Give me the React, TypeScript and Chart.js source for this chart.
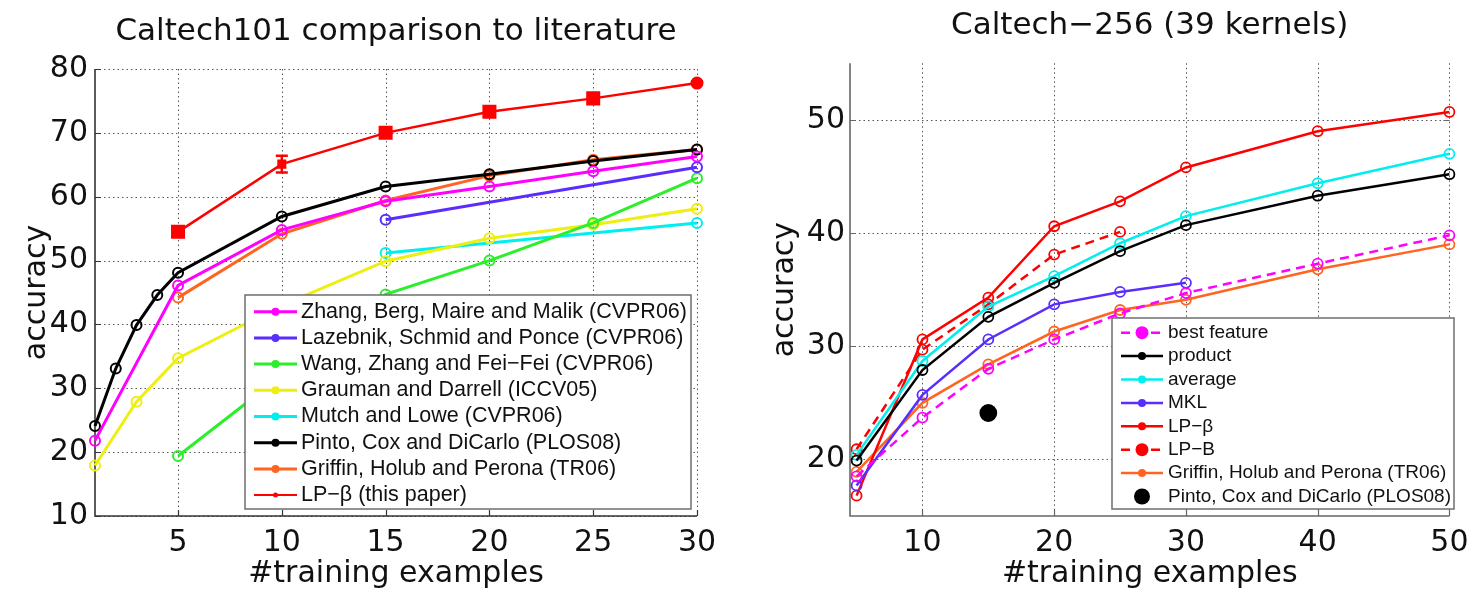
import React, { useEffect, useRef } from "react";
import { Chart, registerables } from "chart.js";

Chart.register(...registerables);

// ---------------- Shared labels ----------------
const X_LABEL = "#training examples";
const Y_LABEL = "accuracy";

// ---------------- Left chart: Caltech101 ----------------
const LEFT_TITLE = "Caltech101 comparison to literature";
const LEFT_X_TICKS = [5, 10, 15, 20, 25, 30];
const LEFT_Y_TICKS = [10, 20, 30, 40, 50, 60, 70, 80];

const L_ZHANG_X = [1, 5, 10, 15, 20, 25, 30];
const L_ZHANG_Y = [21.8, 46.1, 54.8, 59.3, 61.6, 64.0, 66.3];
const L_LAZEBNIK_X = [15, 30];
const L_LAZEBNIK_Y = [56.4, 64.6];
const L_WANG_X = [5, 10, 15, 20, 25, 30];
const L_WANG_Y = [19.4, 32.0, 44.7, 50.0, 55.9, 62.9];
const L_GRAUMAN_X = [1, 3, 5, 10, 15, 20, 25, 30];
const L_GRAUMAN_Y = [17.9, 27.9, 34.7, 43.0, 49.9, 53.5, 55.6, 58.1];
const L_MUTCH_X = [15, 30];
const L_MUTCH_Y = [51.2, 55.9];
const L_PINTO_X = [1, 2, 3, 4, 5, 10, 15, 20, 25, 30];
const L_PINTO_Y = [24.1, 33.1, 39.9, 44.6, 48.1, 56.9, 61.6, 63.5, 65.6, 67.4];
const L_GRIFFIN_X = [5, 10, 15, 20, 25, 30];
const L_GRIFFIN_Y = [44.2, 54.2, 59.4, 63.3, 65.8, 67.4];
const L_LPB_X = [5, 10, 15, 20, 25, 30];
const L_LPB_Y = [54.5, 65.1, 70.0, 73.3, 75.4, 77.8];
const L_LPB_ERR = [0.5, 1.3, 0.5, 0.4, 0.4, 0.3];

// ---------------- Right chart: Caltech-256 ----------------
const RIGHT_TITLE = "Caltech\u2212256 (39 kernels)";
const RIGHT_X_TICKS = [10, 20, 30, 40, 50];
const RIGHT_Y_TICKS = [20, 30, 40, 50];

const R_X = [5, 10, 15, 20, 25, 30, 40, 50];
const R_BEST_Y = [18.5, 23.7, 28.0, 30.6, 32.9, 34.7, 37.3, 39.8];
const R_PRODUCT_Y = [19.9, 27.9, 32.6, 35.6, 38.4, 40.7, 43.3, 45.2];
const R_AVERAGE_Y = [20.4, 28.7, 33.5, 36.2, 39.1, 41.5, 44.4, 47.0];
const R_MKL_X = [5, 10, 15, 20, 25, 30];
const R_MKL_Y = [17.7, 25.7, 30.6, 33.7, 34.8, 35.6];
const R_LPBETA_Y = [16.8, 30.6, 34.3, 40.6, 42.8, 45.8, 49.0, 50.7];
const R_LPB_X = [5, 10, 15, 20, 25];
const R_LPB_Y = [20.9, 29.7, 33.7, 38.1, 40.1];
const R_GRIFFIN_Y = [18.9, 25.0, 28.4, 31.3, 33.2, 34.1, 36.8, 39.0];
const R_PINTO_X = [15];
const R_PINTO_Y = [24.1];

// ---------------- Colors ----------------
const MAGENTA = "#ff00ff";
const BLUE = "#5a2dff";
const GREEN = "#2bef2b";
const YELLOW = "#eeee11";
const CYAN = "#00eeee";
const BLACK = "#000000";
const ORANGE = "#ff6420";
const RED = "#ff0000";

const BIG_FONT = { family: "DejaVu Sans", size: 30, weight: "normal" as const };
const TITLE_FONT = { family: "DejaVu Sans", size: 31, weight: "normal" as const };

const pts = (xs: number[], ys: number[]) => xs.map((x, i) => ({ x, y: ys[i] }));

// ---------------- Plugins ----------------
const gridAxesPlugin = {
  id: "gridAxes",
  beforeDatasetsDraw(chart: any, _a: any, opts: any) {
    const { ctx, chartArea: ca, scales } = chart;
    const xs = scales.x;
    const ys = scales.y;
    ctx.save();
    ctx.lineWidth = 1;
    ctx.strokeStyle = opts.gridColor;
    ctx.setLineDash([1.5, 3]);
    for (const v of opts.xTicks) {
      const px = Math.round(xs.getPixelForValue(v)) + 0.5;
      ctx.beginPath();
      ctx.moveTo(px, ca.top);
      ctx.lineTo(px, ca.bottom);
      ctx.stroke();
    }
    for (const v of opts.yTicks) {
      const py = Math.round(ys.getPixelForValue(v)) + 0.5;
      ctx.beginPath();
      ctx.moveTo(ca.left, py);
      ctx.lineTo(ca.right, py);
      ctx.stroke();
    }
    ctx.setLineDash([]);
    ctx.strokeStyle = opts.axisColor;
    ctx.lineWidth = opts.axisWidth;
    ctx.beginPath();
    ctx.moveTo(ca.left, ca.top);
    ctx.lineTo(ca.left, ca.bottom);
    ctx.lineTo(ca.right, ca.bottom);
    ctx.stroke();
    ctx.lineWidth = 1.2;
    ctx.beginPath();
    for (const v of opts.xTicks) {
      const px = Math.round(xs.getPixelForValue(v)) + 0.5;
      ctx.moveTo(px, ca.bottom);
      ctx.lineTo(px, ca.bottom - 6);
    }
    for (const v of opts.yTicks) {
      const py = Math.round(ys.getPixelForValue(v)) + 0.5;
      ctx.moveTo(ca.left, py);
      ctx.lineTo(ca.left + 6, py);
      if (opts.rightTicks) {
        ctx.moveTo(ca.right, py);
        ctx.lineTo(ca.right - 6, py);
      }
    }
    ctx.stroke();
    ctx.restore();
  },
};

const errorBarPlugin = {
  id: "errorBars",
  afterDatasetsDraw(chart: any) {
    const { ctx, scales } = chart;
    chart.data.datasets.forEach((ds: any) => {
      if (!ds.errorBars) return;
      ctx.save();
      ctx.strokeStyle = ds.borderColor;
      ctx.lineWidth = 2.5;
      ds.data.forEach((p: any, j: number) => {
        const e = ds.errorBars[j];
        const px = scales.x.getPixelForValue(p.x);
        const yt = scales.y.getPixelForValue(p.y + e);
        const yb = scales.y.getPixelForValue(p.y - e);
        ctx.beginPath();
        ctx.moveTo(px, yt);
        ctx.lineTo(px, yb);
        ctx.moveTo(px - 6, yt);
        ctx.lineTo(px + 6, yt);
        ctx.moveTo(px - 6, yb);
        ctx.lineTo(px + 6, yb);
        ctx.stroke();
      });
      ctx.restore();
    });
  },
};

const legendBoxPlugin = {
  id: "legendBox",
  afterDraw(chart: any, _a: any, opts: any) {
    const { ctx } = chart;
    const { box, rowY0, rowStep, lineX0, lineX1, textX, font, items } = opts;
    ctx.save();
    ctx.fillStyle = "#ffffff";
    ctx.fillRect(box.x0, box.y0, box.x1 - box.x0, box.y1 - box.y0);
    ctx.strokeStyle = "#6e6e6e";
    ctx.lineWidth = 1.5;
    ctx.strokeRect(box.x0, box.y0, box.x1 - box.x0, box.y1 - box.y0);
    chart.data.datasets.forEach((ds: any, i: number) => {
      const y = rowY0 + i * rowStep;
      const st = items[i] || {};
      const color = ds.borderColor;
      if (st.line !== false) {
        ctx.strokeStyle = color;
        ctx.lineWidth = st.lineWidth ?? ds.borderWidth;
        ctx.setLineDash(ds.borderDash || []);
        ctx.beginPath();
        ctx.moveTo(lineX0, y);
        ctx.lineTo(lineX1, y);
        ctx.stroke();
        ctx.setLineDash([]);
      }
      if (st.marker) {
        ctx.fillStyle = color;
        ctx.beginPath();
        ctx.arc((lineX0 + lineX1) / 2, y, st.marker, 0, Math.PI * 2);
        ctx.fill();
      }
      ctx.fillStyle = "#111111";
      ctx.font = font;
      ctx.textBaseline = "middle";
      ctx.textAlign = "left";
      ctx.fillText(ds.label, textX, y);
    });
    ctx.restore();
  },
};

// ---------------- Dataset helpers ----------------
const leftSeries = (label: string, xs: number[], ys: number[], color: string, extra: any = {}) => ({
  label,
  data: pts(xs, ys),
  borderColor: color,
  backgroundColor: color,
  borderWidth: 3,
  pointRadius: 5,
  pointBorderWidth: 2,
  pointBorderColor: color,
  pointBackgroundColor: "rgba(255,255,255,0)",
  pointStyle: "circle",
  clip: false,
  ...extra,
});

const rightSeries = (label: string, xs: number[], ys: number[], color: string, extra: any = {}) => ({
  label,
  data: pts(xs, ys),
  borderColor: color,
  backgroundColor: color,
  borderWidth: 2.5,
  pointRadius: 5,
  pointBorderWidth: 1.8,
  pointBorderColor: color,
  pointBackgroundColor: "rgba(255,255,255,0)",
  pointStyle: "circle",
  clip: false,
  ...extra,
});

function makeScales(o: {
  xMin: number; xMax: number; yMin: number; yMax: number;
  xTicks: number[]; yTicks: number[]; yWidth: number; xHeight: number;
  yTickPad: number; xTickPad: number; yTitlePad: number;
}) {
  return {
    x: {
      type: "linear",
      min: o.xMin,
      max: o.xMax,
      afterBuildTicks: (s: any) => { s.ticks = o.xTicks.map((value) => ({ value })); },
      afterFit: (s: any) => { s.height = o.xHeight; },
      ticks: { font: BIG_FONT, color: "#111", padding: o.xTickPad, maxRotation: 0, autoSkip: false },
      grid: { display: false, drawTicks: false },
      border: { display: false },
      title: { display: true, text: X_LABEL, font: BIG_FONT, color: "#111", padding: { top: 0, bottom: 0 } },
    },
    y: {
      type: "linear",
      min: o.yMin,
      max: o.yMax,
      afterBuildTicks: (s: any) => { s.ticks = o.yTicks.map((value) => ({ value })); },
      afterFit: (s: any) => { s.width = o.yWidth; },
      ticks: { font: BIG_FONT, color: "#111", padding: o.yTickPad, autoSkip: false },
      grid: { display: false, drawTicks: false },
      border: { display: false },
      title: { display: true, text: Y_LABEL, font: BIG_FONT, color: "#111", padding: { top: o.yTitlePad, bottom: 0 } },
    },
  };
}

export default function App() {
  const leftRef = useRef<HTMLCanvasElement>(null);
  const rightRef = useRef<HTMLCanvasElement>(null);

  useEffect(() => {
    Chart.defaults.font.family = "DejaVu Sans";

    const left = new Chart(leftRef.current as HTMLCanvasElement, {
      type: "line",
      data: {
        datasets: [
          leftSeries("Zhang, Berg, Maire and Malik (CVPR06)", L_ZHANG_X, L_ZHANG_Y, MAGENTA),
          leftSeries("Lazebnik, Schmid and Ponce (CVPR06)", L_LAZEBNIK_X, L_LAZEBNIK_Y, BLUE),
          leftSeries("Wang, Zhang and Fei\u2212Fei (CVPR06)", L_WANG_X, L_WANG_Y, GREEN),
          leftSeries("Grauman and Darrell (ICCV05)", L_GRAUMAN_X, L_GRAUMAN_Y, YELLOW),
          leftSeries("Mutch and Lowe (CVPR06)", L_MUTCH_X, L_MUTCH_Y, CYAN),
          leftSeries("Pinto, Cox and DiCarlo (PLOS08)", L_PINTO_X, L_PINTO_Y, BLACK),
          leftSeries("Griffin, Holub and Perona (TR06)", L_GRIFFIN_X, L_GRIFFIN_Y, ORANGE),
          leftSeries("LP\u2212\u03b2 (this paper)", L_LPB_X, L_LPB_Y, RED, {
            borderWidth: 2.5,
            pointStyle: ["rect", "rect", "rect", "rect", "rect", "circle"],
            pointRadius: [8.5, 5, 8.5, 8.5, 8.5, 5.5],
            pointBackgroundColor: RED,
            errorBars: L_LPB_ERR,
          }),
        ],
      },
      options: {
        responsive: false,
        animation: false,
        events: [],
        layout: { padding: { left: 0, right: 43, top: 0, bottom: 0 } },
        elements: { line: { tension: 0 } },
        plugins: {
          legend: { display: false },
          tooltip: { enabled: false },
          title: {
            display: true,
            fullSize: false,
            text: LEFT_TITLE,
            font: TITLE_FONT,
            color: "#111",
            padding: { top: 12.9, bottom: 18.9 },
          },
          gridAxes: { xTicks: LEFT_X_TICKS, yTicks: LEFT_Y_TICKS, gridColor: "rgba(30,30,30,0.75)", axisColor: "#333", axisWidth: 1.6, rightTicks: false },
          legendBox: {
            box: { x0: 245, y0: 295, x1: 691, y1: 509 },
            rowY0: 311.7,
            rowStep: 26.2,
            lineX0: 254,
            lineX1: 297,
            textX: 301,
            font: '21.5px "Liberation Sans"',
            items: [
              { marker: 4 }, { marker: 4 }, { marker: 4 }, { marker: 4 },
              { marker: 4 }, { marker: 4 }, { marker: 4 }, { marker: 2.5, lineWidth: 2 },
            ],
          },
        },
        scales: makeScales({
          xMin: 1, xMax: 30, yMin: 10, yMax: 80,
          xTicks: LEFT_X_TICKS, yTicks: LEFT_Y_TICKS,
          yWidth: 95, xHeight: 76, yTickPad: 7, xTickPad: 9.5, yTitlePad: 19,
        }),
      } as any,
      plugins: [gridAxesPlugin, errorBarPlugin, legendBoxPlugin],
    });

    const right = new Chart(rightRef.current as HTMLCanvasElement, {
      type: "line",
      data: {
        datasets: [
          rightSeries("best feature", R_X, R_BEST_Y, MAGENTA, { borderDash: [9, 6] }),
          rightSeries("product", R_X, R_PRODUCT_Y, BLACK),
          rightSeries("average", R_X, R_AVERAGE_Y, CYAN),
          rightSeries("MKL", R_MKL_X, R_MKL_Y, BLUE),
          rightSeries("LP\u2212\u03b2", R_X, R_LPBETA_Y, RED),
          rightSeries("LP\u2212B", R_LPB_X, R_LPB_Y, RED, { borderDash: [9, 6] }),
          rightSeries("Griffin, Holub and Perona (TR06)", R_X, R_GRIFFIN_Y, ORANGE),
          rightSeries("Pinto, Cox and DiCarlo (PLOS08)", R_PINTO_X, R_PINTO_Y, BLACK, {
            showLine: false,
            pointRadius: 8,
            pointBackgroundColor: BLACK,
          }),
        ],
      },
      options: {
        responsive: false,
        animation: false,
        events: [],
        layout: { padding: { left: 0, right: 24, top: 0, bottom: 0 } },
        elements: { line: { tension: 0 } },
        plugins: {
          legend: { display: false },
          tooltip: { enabled: false },
          title: {
            display: true,
            fullSize: false,
            text: RIGHT_TITLE,
            font: TITLE_FONT,
            color: "#111",
            padding: { top: 7.2, bottom: 18.9 },
          },
          gridAxes: { xTicks: RIGHT_X_TICKS, yTicks: RIGHT_Y_TICKS, gridColor: "rgba(30,30,30,0.75)", axisColor: "#666", axisWidth: 1.6, rightTicks: true },
          legendBox: {
            box: { x0: 372, y0: 318, x1: 714, y1: 509 },
            rowY0: 332.7,
            rowStep: 23.4,
            lineX0: 381,
            lineX1: 423,
            textX: 428,
            font: '19px "Liberation Sans"',
            items: [
              { marker: 6.5 }, { marker: 4 }, { marker: 4 }, { marker: 4 },
              { marker: 4 }, { marker: 6.5 }, { marker: 4 }, { line: false, marker: 8 },
            ],
          },
        },
        scales: makeScales({
          xMin: 4.5, xMax: 50, yMin: 15, yMax: 55,
          xTicks: RIGHT_X_TICKS, yTicks: RIGHT_Y_TICKS,
          yWidth: 110, xHeight: 76, yTickPad: 5, xTickPad: 9.5, yTitlePad: 27,
        }),
      } as any,
      plugins: [gridAxesPlugin, legendBoxPlugin],
    });

    return () => {
      left.destroy();
      right.destroy();
    };
  }, []);

  return (
    <div style={{ position: "absolute", left: 0, top: 0, width: 1478, height: 592, background: "#fff" }}>
      <canvas ref={leftRef} width={740} height={592} style={{ position: "absolute", left: 0, top: 0 }} />
      <canvas ref={rightRef} width={738} height={592} style={{ position: "absolute", left: 740, top: 0 }} />
    </div>
  );
}
